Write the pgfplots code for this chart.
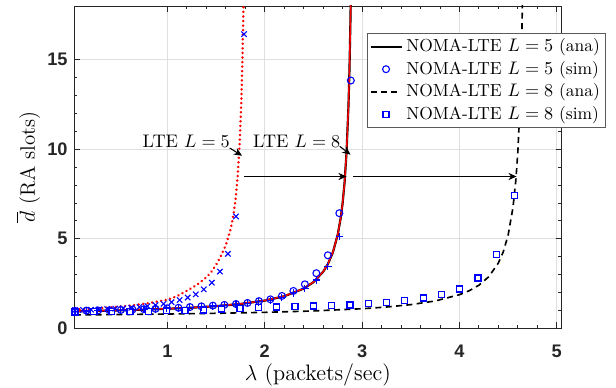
\documentclass[border=0pt]{standalone}
\usepackage{fontspec}
\setsansfont{Liberation Sans}
\usepackage{pgfplots}
\pgfplotsset{compat=1.18}
\usetikzlibrary{arrows.meta}
\definecolor{axgray}{RGB}{38,38,38}
\definecolor{gridgray}{RGB}{223,223,223}
\definecolor{legbord}{RGB}{90,90,90}
\definecolor{mblue}{RGB}{0,0,255}

\pgfplotstableread{
x y
0.05 0.950
0.25 0.971
0.50 1.003
0.75 1.042
1.00 1.091
1.25 1.154
1.50 1.240
1.75 1.362
2.00 1.550
2.20 1.793
2.40 2.219
2.50 2.580
2.60 3.161
2.65 3.607
2.70 4.247
2.75 5.242
2.78 6.157
2.80 7.002
2.82 8.155
2.84 9.820
2.86 12.435
2.87 14.397
2.88 17.144
2.885 18.975
2.89 21.264
}\nomaFiveAna

\pgfplotstableread{
x y
0.050 0.98
0.168 0.99
0.286 1.00
0.404 1.01
0.522 1.03
0.641 1.05
0.759 1.07
0.877 1.09
0.995 1.12
1.113 1.15
1.231 1.19
1.349 1.23
1.467 1.27
1.585 1.31
1.704 1.36
1.822 1.42
1.940 1.52
2.058 1.62
2.176 1.81
2.294 2.09
2.412 2.46
2.530 3.08
2.648 4.08
2.766 6.43
2.884 13.84
}\nomaFiveSim

\pgfplotstableread{
x y
0.05 0.750
0.50 0.771
1.00 0.801
1.50 0.841
2.00 0.894
2.50 0.973
3.00 1.097
3.25 1.191
3.50 1.325
3.75 1.529
4.00 1.879
4.10 2.100
4.20 2.410
4.30 2.875
4.40 3.650
4.45 4.270
4.50 5.200
4.55 6.750
4.58 8.300
4.60 9.850
4.62 12.175
4.64 16.050
4.65 19.150
}\nomaEightAna

\pgfplotstableread{
x y
0.050 0.92
0.238 0.93
0.427 0.94
0.615 0.95
0.803 0.96
0.992 0.98
1.180 1.00
1.368 1.03
1.557 1.08
1.745 1.12
1.933 1.15
2.122 1.19
2.310 1.22
2.498 1.25
2.686 1.28
2.875 1.31
3.063 1.37
3.251 1.45
3.439 1.55
3.628 1.70
3.816 1.88
4.004 2.20
4.192 2.81
4.381 4.14
4.569 7.40
}\nomaEightSim

\pgfplotstableread{
x y
0.05 1.05
0.20 1.09
0.40 1.16
0.60 1.26
0.80 1.40
1.00 1.60
1.10 1.80
1.20 2.10
1.30 2.42
1.40 2.85
1.45 3.15
1.50 3.55
1.55 4.05
1.60 4.65
1.65 5.55
1.68 6.40
1.70 7.20
1.72 8.40
1.74 10.10
1.76 12.80
1.77 14.90
1.78 17.60
1.79 21.00
}\lteFiveAna

\pgfplotstableread{
x y
0.050 1.02
0.133 1.03
0.215 1.04
0.298 1.06
0.381 1.08
0.464 1.10
0.546 1.12
0.629 1.15
0.712 1.19
0.794 1.24
0.877 1.30
0.960 1.37
1.042 1.46
1.125 1.58
1.208 1.72
1.291 1.90
1.373 2.18
1.456 2.55
1.539 3.17
1.621 4.16
1.704 6.25
1.787 16.43
}\lteFiveSim

\pgfplotstableread{
x y
0.05 0.955
0.25 0.976
0.50 1.008
0.75 1.047
1.00 1.096
1.25 1.159
1.50 1.245
1.75 1.367
2.00 1.555
2.20 1.798
2.40 2.224
2.50 2.585
2.60 3.166
2.65 3.612
2.70 4.252
2.75 5.247
2.78 6.162
2.80 7.007
2.82 8.160
2.84 9.825
2.86 12.440
2.87 14.402
2.88 17.149
2.885 18.980
2.89 21.269
}\lteEightAna

\pgfplotstableread{
x y
0.050 0.96
0.168 0.97
0.286 0.98
0.404 0.99
0.522 1.01
0.641 1.03
0.759 1.05
0.877 1.07
0.995 1.10
1.113 1.13
1.231 1.17
1.349 1.21
1.467 1.25
1.585 1.29
1.704 1.34
1.822 1.40
1.940 1.48
2.058 1.55
2.176 1.72
2.294 1.98
2.412 2.22
2.530 2.70
2.648 3.45
2.766 5.13
}\lteEightSim

\begin{document}
\begin{tikzpicture}
\begin{axis}[
  name=ax,
  scale only axis,
  width=268.2pt, height=177.3pt,
  xmin=0.04, xmax=5.05, ymin=0, ymax=18,
  xtick={1,2,3,4,5}, ytick={0,5,10,15},
  minor x tick num=4, minor y tick num=4,
  tick align=inside,
  major tick length=3.3pt, minor tick length=1.8pt,
  xtick pos=both, ytick pos=both,
  axis line style={axgray, line width=0.5pt},
  every tick/.style={axgray, line width=0.5pt},
  grid=major,
  major grid style={gridgray, line width=0.5pt},
  /pgf/number format/assume math mode=true,
  tick label style={font=\sffamily\bfseries\fontsize{10}{12}\selectfont, text=axgray},
  xticklabel style={yshift=-5.5pt},
  xlabel={$\lambda$ (packets/sec)},
  ylabel={$\overline{d}$ (RA slots)},
  xlabel style={font=\fontsize{12.3}{14}\selectfont, at={(axis description cs:0.5,-0.145)}, anchor=center},
  ylabel style={font=\fontsize{11.5}{13}\selectfont, at={(axis description cs:-0.094,0.5)}, anchor=center},
  legend style={at={(0.601,0.917)}, anchor=north west,
    font=\fontsize{9.6}{11.5}\selectfont, draw=legbord, line width=0.6pt,
    fill=white, inner xsep=1pt, inner ysep=1pt, row sep=-0.3pt},
  legend cell align=left,
]
\addplot[black, line width=1.2pt] table[x=x,y=y] {\nomaFiveAna};
\addplot[only marks, color=mblue, mark=o, mark size=1.9pt, mark options={color=mblue, fill=none, line width=0.6pt, solid}] table[x=x,y=y] {\nomaFiveSim};
\addplot[black, line width=0.9pt, dash pattern=on 3.3pt off 2.4pt] table[x=x,y=y] {\nomaEightAna};
\addplot[only marks, color=mblue, mark=square*, mark size=1.65pt, mark options={draw=mblue, fill=white, line width=0.7pt, solid}] table[x=x,y=y] {\nomaEightSim};
\addplot[red, line width=1.5pt, dash pattern=on 0.01pt off 2.5pt, line cap=round] table[x=x,y=y] {\lteFiveAna};
\addplot[only marks, color=mblue, mark=x, mark size=2.1pt, mark options={color=mblue, line width=0.6pt, solid}] table[x=x,y=y] {\lteFiveSim};
\addplot[red, line width=0.8pt] table[x=x,y=y] {\lteEightAna};
\addplot[only marks, color=mblue, mark=+, mark size=2.1pt, mark options={color=mblue, line width=0.6pt, solid}] table[x=x,y=y] {\lteEightSim};
\legend{NOMA-LTE $L=5$ (ana), NOMA-LTE $L=5$ (sim), NOMA-LTE $L=8$ (ana), NOMA-LTE $L=8$ (sim)}

\node[font=\fontsize{10}{12}\selectfont, inner sep=0pt] at (axis cs:1.193,10.42) {LTE $L=5$};
\node[font=\fontsize{10}{12}\selectfont, inner sep=0pt] at (axis cs:2.329,10.44) {LTE $L=8$};
\draw[-{Stealth[length=4.5pt,width=4pt]}, black, line width=0.6pt] (axis cs:1.640,10.07) -- (axis cs:1.766,9.64);
\draw[-{Stealth[length=4.5pt,width=4pt]}, black, line width=0.6pt] (axis cs:2.771,10.16) -- (axis cs:2.881,9.70);
\draw[-{Stealth[length=4.5pt,width=4pt]}, black, line width=0.6pt] (axis cs:1.787,8.48) -- (axis cs:2.84,8.48);
\draw[-{Stealth[length=4.5pt,width=4pt]}, black, line width=0.6pt] (axis cs:2.908,8.48) -- (axis cs:4.587,8.48);
\end{axis}
\pgfresetboundingbox
\path ([shift={(-40.7pt,-32.3pt)}]ax.south west) rectangle ([shift={(29.9pt,3.3pt)}]ax.north east);
\end{tikzpicture}
\end{document}
